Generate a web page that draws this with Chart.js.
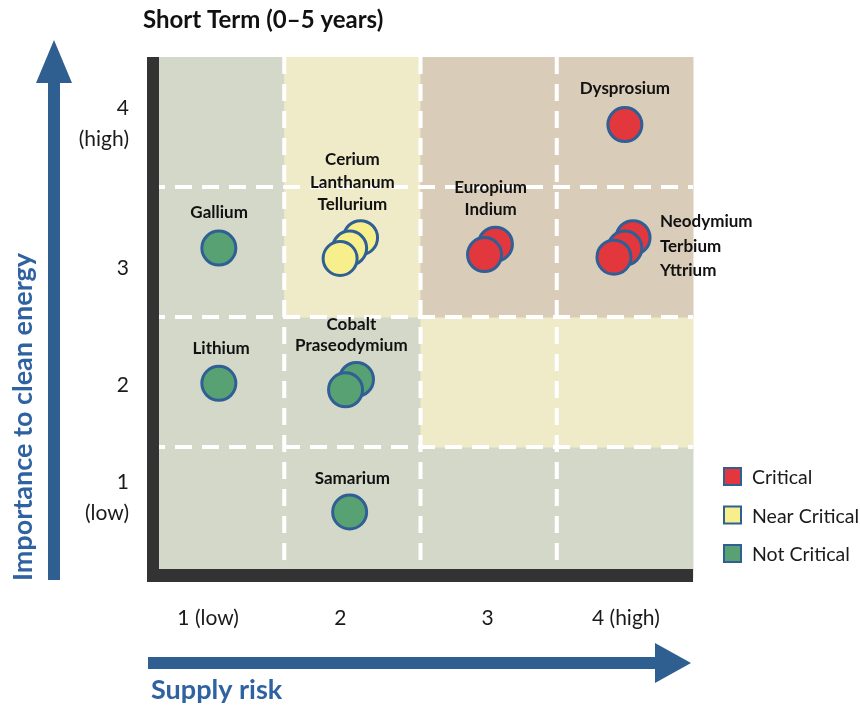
<!DOCTYPE html>
<html><head><meta charset="utf-8">
<script src="https://cdn.jsdelivr.net/npm/chart.js@4"></script>
<style>html,body{margin:0;padding:0;background:#fff}#wrap{width:860px;height:709px}</style>
</head><body><div id="wrap"><canvas id="c" width="860" height="709"></canvas></div>
<script>
// ---- data ----
const categories = ['Critical', 'Near Critical', 'Not Critical'];
const criticalX = [4.0, 3.05, 2.97, 4.06, 4.0, 3.92];
const criticalY = [3.98, 3.06, 2.98, 3.11, 3.03, 2.96];
const nearX = [2.06, 1.98, 1.91];
const nearY = [3.11, 3.03, 2.95];
const notX = [1.02, 1.02, 2.03, 1.95, 1.98];
const notY = [3.03, 1.99, 2.02, 1.94, 1.0];
const xTickValues = [1, 2, 3, 4];
const xTickLabels = ['1 (low)', '2', '3', '4 (high)'];
const yTickValues = [1, 2, 3, 4];
const yTickLabels = [['1', '(low)'], ['2'], ['3'], ['4', '(high)']];
// zone of each cell, rows = importance 1..4, columns = supply risk 1..4
const zoneGrid = [
  ['Not Critical', 'Not Critical', 'Not Critical', 'Not Critical'],
  ['Not Critical', 'Not Critical', 'Near Critical', 'Near Critical'],
  ['Not Critical', 'Near Critical', 'Critical', 'Critical'],
  ['Not Critical', 'Near Critical', 'Critical', 'Critical']
];
const groupNames = [['Dysprosium'], ['Europium', 'Indium'], ['Neodymium', 'Terbium', 'Yttrium'],
  ['Cerium', 'Lanthanum', 'Tellurium'], ['Gallium'], ['Lithium'], ['Cobalt', 'Praseodymium'], ['Samarium']];
const groupRisk = [4, 3, 4, 2, 1, 1, 2, 2];
const groupImportance = [4, 3, 3, 3, 3, 2, 2, 1];

// ---- styles ----
const pointFill = {'Critical': '#e2373c', 'Near Critical': '#f6ef8c', 'Not Critical': '#58a173'};
const zoneFill = {'Critical': '#d9cdb9', 'Near Critical': '#efebc9', 'Not Critical': '#d4d8c9'};
const edge = '#2f5f94';
const blue = '#2f5f91';
// label placement style: [align, dx, dy(first line), lineHeight]
const labelStyle = [
  ['center', 0, -33, 22], ['center', 2, -64, 22], ['left', 35, -30, 24.5],
  ['center', 0, -92, 22.5], ['center', 3, -39, 22], ['center', 5, -33, 22],
  ['center', -1, -57, 20.5], ['center', 0, -33, 22]
];
const xTickNudge = [-8, -12, -1, 1];
const yTickNudge = [-14, 3, 16, 2];

const F = 'Lato, "Open Sans", sans-serif';

const decor = {
  id: 'decor',
  beforeDatasetsDraw(chart) {
    const {ctx, chartArea: a, scales: {x, y}} = chart;
    ctx.save();
    for (let r = 0; r < 4; r++) {
      for (let c = 0; c < 4; c++) {
        const x0 = x.getPixelForValue(c + 0.5), x1 = x.getPixelForValue(c + 1.5);
        const y0 = y.getPixelForValue(r + 1.5), y1 = y.getPixelForValue(r + 0.5);
        ctx.fillStyle = zoneFill[zoneGrid[r][c]];
        ctx.fillRect(x0, y0, x1 - x0 + 0.5, y1 - y0 + 0.5);
      }
    }
    ctx.strokeStyle = '#ffffff';
    ctx.lineWidth = 4;
    ctx.setLineDash([17, 10]);
    [1.5, 2.5, 3.5].forEach(v => {
      const px = x.getPixelForValue(v);
      ctx.beginPath(); ctx.moveTo(px, a.top); ctx.lineTo(px, a.bottom); ctx.stroke();
      const py = y.getPixelForValue(v);
      ctx.beginPath(); ctx.moveTo(a.left, py); ctx.lineTo(a.right, py); ctx.stroke();
    });
    ctx.setLineDash([]);
    ctx.fillStyle = '#333333';
    ctx.fillRect(a.left - 1, a.top, 12, a.bottom - a.top + 5);
    ctx.fillRect(a.left - 1, a.bottom - 8, a.right - a.left + 1, 13);
    ctx.restore();
  },
  afterDraw(chart) {
    const {ctx, chartArea: a, scales: {x, y}} = chart;
    ctx.save();
    // title
    ctx.fillStyle = '#111';
    ctx.font = 'bold 24px ' + F;
    ctx.textAlign = 'left'; ctx.textBaseline = 'middle';
    ctx.fillText('Short Term (0\u20135 years)', a.left - 5, 20);
    // x tick labels
    ctx.font = '21px ' + F;
    ctx.fillStyle = '#1a1a1a';
    ctx.textAlign = 'center';
    xTickValues.forEach((v, i) => ctx.fillText(xTickLabels[i], x.getPixelForValue(v) + xTickNudge[i], a.bottom + 41));
    // y tick labels
    ctx.textAlign = 'right';
    yTickValues.forEach((v, i) => {
      const lines = yTickLabels[i];
      const lh = 31;
      const py = y.getPixelForValue(v) + yTickNudge[i] - (lines.length - 1) * lh / 2;
      lines.forEach((t, k) => ctx.fillText(t, 129, py + k * lh));
    });
    // point group labels
    ctx.font = 'bold 17px ' + F;
    ctx.fillStyle = '#111';
    groupNames.forEach((lines, i) => {
      const [al, dx, dy, lh] = labelStyle[i];
      ctx.textAlign = al;
      const px = x.getPixelForValue(groupRisk[i]) + dx;
      const py = y.getPixelForValue(groupImportance[i]) + dy;
      lines.forEach((t, k) => ctx.fillText(t, px, py + k * lh));
    });
    // legend
    ctx.font = '19.5px ' + F;
    ctx.textAlign = 'left';
    chart.data.datasets.forEach((ds, i) => {
      const cy = 477 + i * 38.5;
      ctx.fillStyle = ds.backgroundColor;
      ctx.fillRect(724, cy - 9, 17, 17);
      ctx.strokeStyle = edge; ctx.lineWidth = 2;
      ctx.strokeRect(724, cy - 9, 17, 17);
      ctx.fillStyle = '#1a1a1a';
      ctx.fillText(ds.label, 752, cy + 1);
    });
    // arrows
    ctx.fillStyle = blue;
    const vx = 54;
    ctx.fillRect(vx - 6, 82, 12, a.bottom + 3 - 82);
    ctx.beginPath(); ctx.moveTo(vx - 18, 83); ctx.lineTo(vx + 18, 83); ctx.lineTo(vx, 40); ctx.closePath(); ctx.fill();
    const hy = 663;
    ctx.fillRect(a.left, hy - 6, 656 - a.left, 12);
    ctx.beginPath(); ctx.moveTo(655, hy - 20); ctx.lineTo(655, hy + 20); ctx.lineTo(691, hy); ctx.closePath(); ctx.fill();
    // axis titles
    ctx.fillStyle = '#2f62a0';
    ctx.font = 'bold 27px ' + F;
    ctx.textAlign = 'left'; ctx.textBaseline = 'middle';
    ctx.fillText('Supply risk', 151, 690);
    ctx.translate(23, 417);
    ctx.rotate(-Math.PI / 2);
    ctx.textAlign = 'center';
    ctx.fillText('Importance to clean energy', 0, 0);
    ctx.restore();
  }
};

const mk = (xs, ys) => xs.map((v, i) => ({x: v, y: ys[i]}));
const series = [mk(criticalX, criticalY), mk(nearX, nearY), mk(notX, notY)];

new Chart(document.getElementById('c'), {
  type: 'scatter',
  data: {
    datasets: categories.map((name, i) => ({
      label: name,
      data: series[i],
      backgroundColor: pointFill[name],
      borderColor: edge,
      borderWidth: 3,
      pointRadius: 17,
      pointHoverRadius: 17
    }))
  },
  options: {
    responsive: false,
    animation: false,
    layout: {padding: {left: 148, right: 167, top: 57, bottom: 132}},
    plugins: {legend: {display: false}, tooltip: {enabled: false}, title: {display: false}},
    scales: {
      x: {type: 'linear', min: 0.5, max: 4.5, display: false},
      y: {type: 'linear', min: 0.5, max: 4.5, display: false}
    }
  },
  plugins: [decor]
});
</script>
</body></html>
